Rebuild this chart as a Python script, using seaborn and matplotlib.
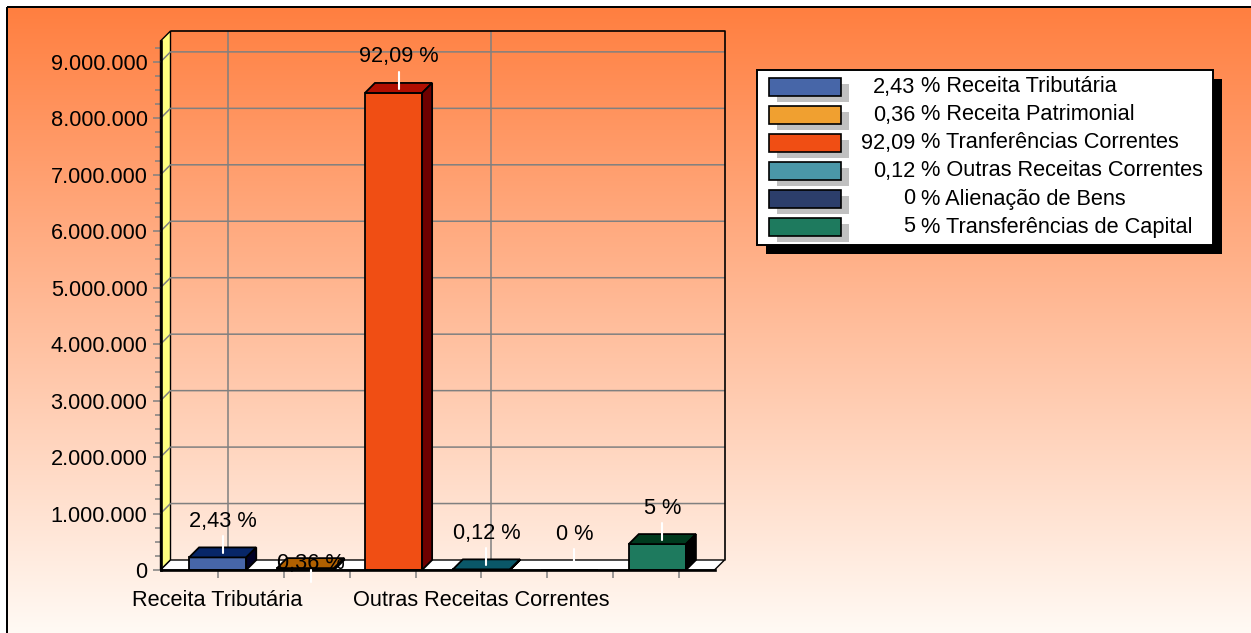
import numpy as np
import pandas as pd
import matplotlib
matplotlib.use("Agg")
import matplotlib.pyplot as plt
import matplotlib.patches as mpatches
from matplotlib.colors import to_rgb
from matplotlib.ticker import MultipleLocator, FixedLocator, FixedFormatter
import seaborn as sns

# ---------------- data ----------------
categories = ["Receita Tributária", "Receita Patrimonial", "Tranferências Correntes",
              "Outras Receitas Correntes", "Alienação de Bens", "Transferências de Capital"]
values = [223000, 33000, 8450000, 11000, 0, 459000]
colors = ["#4766A8", "#F0A030", "#F04E14", "#4A97A8", "#2C3E6B", "#1E7A5E"]
y_ticks = [0, 1000000, 2000000, 3000000, 4000000, 5000000, 6000000, 7000000, 8000000, 9000000]
x_labeled = ["Receita Tributária", "Outras Receitas Correntes"]

total = sum(values)


def pct_text(v):
    s = f"{v / total * 100:.2f}".rstrip("0").rstrip(".")
    return s.replace(".", ",")


pct_labels = [pct_text(v) for v in values]

# ---------------- style ----------------
W, H, DPI = 1251, 633, 100
PX = 72.0 / DPI  # points per pixel
sns.set_theme(style="white")
plt.rcParams['font.family'] = ['Liberation Sans', 'DejaVu Sans']
FS = 15.7
GRAY = "#808080"
DX, DY = 10, 10  # depth offset in pixels

fig = plt.figure(figsize=(W / DPI, H / DPI), dpi=DPI)
fig.patch.set_facecolor("white")

# background gradient + border
bg = fig.add_axes([0, 0, 1, 1], zorder=0)
bg.set_xlim(0, W)
bg.set_ylim(H, 0)
bg.axis("off")
c_top = np.array([255, 127, 64]) / 255
c_bot = np.array([255, 251, 246]) / 255
tt = np.linspace(0, 1, 400)[:, None]
grad = c_top * (1 - tt) + c_bot * tt
img = np.repeat(grad[:, None, :], 2, axis=1)
bg.imshow(img, extent=[8, W + 5, H + 5, 8], aspect="auto", interpolation="bilinear")
bg.add_patch(mpatches.Rectangle((7, 7), W + 20, H + 20, fill=False, ec="black", lw=2 * PX))
bg.set_xlim(0, W)
bg.set_ylim(H, 0)

# main axes
L, R, B, T = 160.5, 714.5, 570, 41
ax = fig.add_axes([L / W, (H - B) / H, (R - L) / W, (B - T) / H], zorder=1)
ax.set_facecolor("none")
df = pd.DataFrame({"categoria": categories, "valor": values})
sns.barplot(data=df, x="categoria", y="valor", hue="categoria", order=categories,
            hue_order=categories, palette=colors, saturation=1, width=0.65,
            edgecolor="black", linewidth=1.3, legend=False, ax=ax, zorder=5)
ax.set_xlim(-0.65, 5.65)
ax.set_ylim(0, 9.37e6)
ax.set_xlabel("")
ax.set_ylabel("")
x0, x1 = ax.get_xlim()
y0, y1 = ax.get_ylim()


def pix(x, y, dx=0.0, dy=0.0):
    p = ax.transData.transform((x, y))
    return tuple(ax.transData.inverted().transform((p[0] + dx, p[1] + dy)))


def off(x, y):
    return pix(x, y, DX, DY)


def darker(c, amt):
    r, g, b = to_rgb(c)
    return (max(r - amt / 255, 0), max(g - amt / 255, 0), max(b - amt / 255, 0))


# walls / floor
ax.add_patch(mpatches.Polygon([(x0, y0), (x0, y1), off(x0, y1), off(x0, y0)], closed=True,
                              fc="#FFFF80", ec="black", lw=1.0, clip_on=False, zorder=1))
for v in y_ticks[1:]:
    a, b_, c_ = (x0, v), off(x0, v), off(x1, v)
    ax.plot([a[0], b_[0], c_[0]], [a[1], b_[1], c_[1]], color=GRAY, lw=1.1, clip_on=False, zorder=1.5)
for cat in x_labeled:
    i = categories.index(cat)
    p0, p1 = off(i, 0), off(i, y1)
    ax.plot([p0[0], p1[0]], [p0[1], p1[1]], color=GRAY, lw=1.1, clip_on=False, zorder=1.5)
bt = [off(x0, y1), off(x1, y1), off(x1, 0)]
ax.plot([p[0] for p in bt], [p[1] for p in bt], color="black", lw=1.2, clip_on=False, zorder=2)
ax.add_patch(mpatches.Polygon([(x0, 0), (x1, 0), off(x1, 0), off(x0, 0)], closed=True,
                              fc="white", ec="black", lw=1.0, clip_on=False, zorder=2))

# 3D faces, value labels
label_style = {1: dict(text_dy=5, lead=(-2, -14))}
for patch in ax.patches:
    if not isinstance(patch, mpatches.Rectangle):
        continue
    x = patch.get_x()
    w = patch.get_width()
    h = patch.get_height()
    idx = int(round(x + w / 2))
    if idx < 0 or idx >= len(categories):
        continue
    c = colors[idx]
    if h > 0:
        ax.add_patch(mpatches.Polygon([(x, h), (x + w, h), off(x + w, h), off(x, h)], closed=True,
                                      fc=darker(c, 64), ec="black", lw=1.3, clip_on=False, zorder=5))
        ax.add_patch(mpatches.Polygon([(x + w, 0), (x + w, h), off(x + w, h), off(x + w, 0)],
                                      closed=True, fc=darker(c, 130), ec="black", lw=1.3,
                                      clip_on=False, zorder=5))
    cx = x + w / 2
    st = label_style.get(idx, dict(text_dy=36, lead=(4, 21)))
    la, lb = pix(cx, h, 5, st["lead"][0]), pix(cx, h, 5, st["lead"][1])
    ax.plot([la[0], lb[0]], [la[1], lb[1]], color="white", lw=1.5, clip_on=False, zorder=7)
    tp = pix(cx, h, 5, st["text_dy"])
    ax.text(tp[0], tp[1], f"{pct_labels[idx]} %", ha="center", va="center", fontsize=FS,
            color="black", zorder=8, clip_on=False)

# axes styling
for s in ["top", "right"]:
    ax.spines[s].set_visible(False)
for s in ["left", "bottom"]:
    ax.spines[s].set_color("black")
    ax.spines[s].set_linewidth(1.9)
    ax.spines[s].set_zorder(6)

ax.yaxis.set_major_locator(FixedLocator(y_ticks))
ax.yaxis.set_major_formatter(FixedFormatter([f"{v:,}".replace(",", ".") for v in y_ticks]))
ax.yaxis.set_minor_locator(MultipleLocator(250000))
ax.xaxis.set_major_locator(FixedLocator([categories.index(c) for c in x_labeled]))
ax.xaxis.set_major_formatter(FixedFormatter(x_labeled))
ax.xaxis.set_minor_locator(MultipleLocator(0.75))
ax.tick_params(axis="both", which="both", direction="out", color=GRAY, width=1.1,
               labelsize=FS, labelcolor="black")
ax.tick_params(axis="y", which="major", length=8 * PX, pad=5 * PX)
ax.tick_params(axis="y", which="minor", length=6 * PX)
ax.tick_params(axis="x", which="both", length=8 * PX, pad=12 * PX, bottom=True)
ax.tick_params(axis="y", which="both", left=True)
ax.grid(False)

# legend (pixel coordinates, y down)
lg = fig.add_axes([0, 0, 1, 1], zorder=3)
lg.set_xlim(0, W)
lg.set_ylim(H, 0)
lg.axis("off")
lg.add_patch(mpatches.Rectangle((766, 79), 456, 175, fc="black", ec="none"))
lg.add_patch(mpatches.Rectangle((757, 70), 456, 175, fc="white", ec="black", lw=1.4))
for i, cat in enumerate(categories):
    yc = 87 + 28 * i
    lg.add_patch(mpatches.Rectangle((777, yc - 9 + 6), 72, 18, fc="#C0C0C0", ec="none"))
    lg.add_patch(mpatches.Rectangle((769, yc - 9), 72, 18, fc=colors[i], ec="black", lw=1.2))
    lg.text(915, yc, pct_labels[i], ha="right", va="center", fontsize=FS, color="black")
    lg.text(921, yc, f"% {cat}", ha="left", va="center", fontsize=FS, color="black")

fig.savefig("out.png", dpi=DPI)
